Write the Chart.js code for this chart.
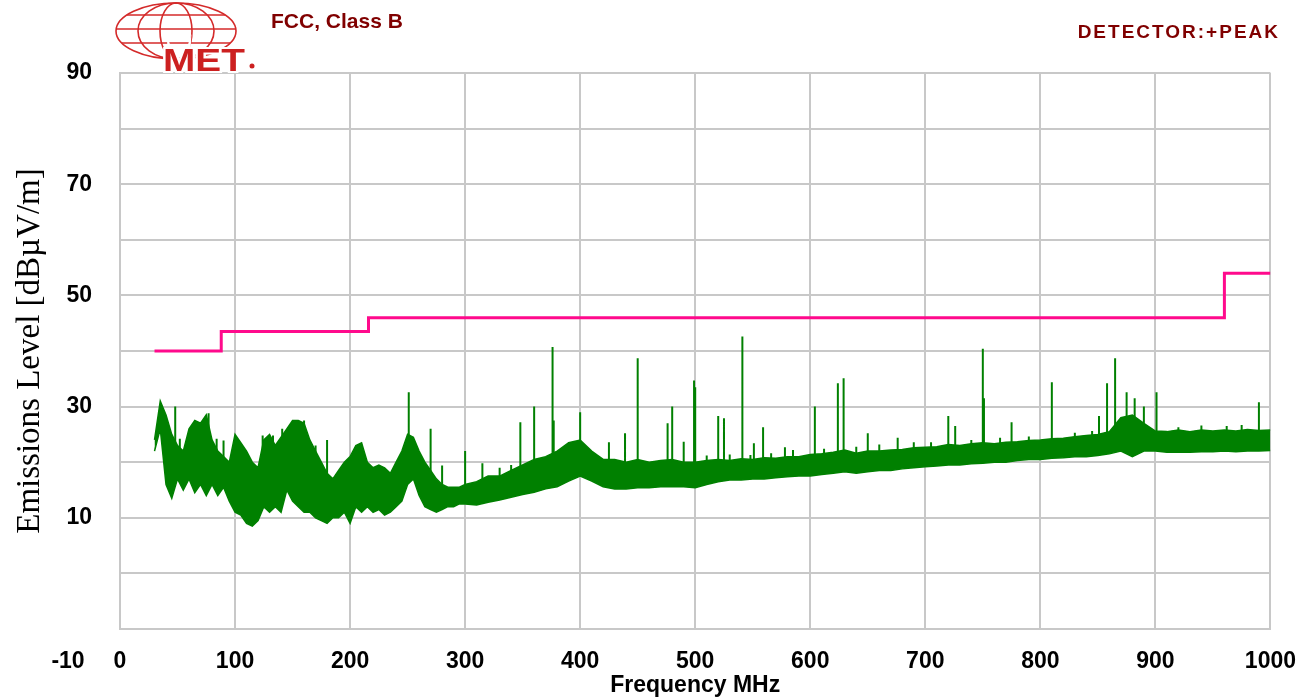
<!DOCTYPE html>
<html>
<head>
<meta charset="utf-8">
<title>FCC, Class B - Emissions</title>
<script src="https://cdn.jsdelivr.net/npm/chart.js@4/dist/chart.umd.min.js"></script>
<style>
  html, body { margin: 0; padding: 0; background: #ffffff; }
  canvas { display: block; }
</style>
</head>
<body>
<canvas id="emissions" width="1315" height="699"></canvas>
<script>
// limit line (FCC Class B, 3 m)
const limitFreq = [30, 88, 88, 216, 216, 960, 960, 1000];
const limitLevel = [40, 40, 43.5, 43.5, 46, 46, 54, 54];

// measured peak trace, read as a band (top / bottom of the noise floor)
const bandFreq = [
  30, 35, 40, 45, 50, 55, 60, 65, 70, 75, 80, 85, 90, 95, 100, 105, 110, 115, 120, 125,
  130, 135, 140, 145, 150, 155, 160, 165, 170, 175, 180, 185, 190, 195, 200, 205, 210, 215, 220, 225,
  230, 235, 240, 245, 250, 255, 260, 265, 270, 275, 280, 285, 290, 295, 300,
  310, 320, 330, 340, 350, 360, 370, 380, 390, 400, 410, 420, 430, 440, 450, 460, 470, 480, 490, 500,
  510, 520, 530, 540, 550, 560, 570, 580, 590, 600, 610, 620, 630, 640, 650, 660, 670, 680, 690, 700,
  710, 720, 730, 740, 750, 760, 770, 780, 790, 800, 810, 820, 830, 840, 850, 860, 870, 880, 890, 900,
  910, 920, 930, 940, 950, 960, 970, 980, 990, 1000
];
const bandHigh = [
  24, 31, 28.5, 25, 23, 22, 26, 27.5, 27, 28.5, 24, 22, 21, 20, 25, 23.5, 22, 20, 19, 24,
  25, 23, 24.5, 26, 27.5, 27.5, 27, 24, 22, 20, 18, 17, 18.5, 20, 21, 23, 23.5, 20, 19, 19.5,
  19, 18, 20, 22, 25, 24.5, 22, 20, 18.5, 17, 16, 15.5, 15.5, 15.5, 16,
  16.5, 17.5, 17.5, 18.5, 19.5, 20.5, 21, 22, 23.5, 24, 22, 20.5, 20.5, 20, 20.5, 20, 20.3, 20.5, 20, 20,
  20.3, 20.5, 20.3, 20.6, 20.5, 20.8, 20.7, 21, 21, 21.4, 21.5, 21.8, 22.2, 21.6, 22, 22, 22.2, 22.3, 22.6, 22.7,
  22.8, 23.2, 23, 23.3, 23.5, 23.3, 23.6, 23.7, 23.9, 24, 24.2, 24.3, 24.6, 24.8, 25, 25.5, 28, 28.5, 27, 25.6,
  25.5, 25.8, 25.5, 25.8, 25.6, 25.8, 25.6, 25.9, 25.7, 25.8
];
const bandLow = [
  22, 26, 16, 13.5, 17, 15, 17, 14.5, 16, 14, 16, 14, 15.5, 13, 11, 10.5, 9, 8.5, 9.5, 12,
  11, 12, 11, 15, 13, 12, 11, 11, 10, 9.5, 9, 10, 10, 11, 9, 12, 11, 12, 11, 11.5,
  10.5, 11, 12, 13, 16, 17, 14, 12, 11.5, 11, 11.5, 12, 12, 12.5, 12.5,
  12.3, 12.8, 13.2, 13.7, 14.2, 14.6, 15.2, 15.6, 16.6, 17.5, 16.6, 15.6, 15.2, 15.2, 15.4, 15.4, 15.6, 15.6, 15.6, 15.4,
  16, 16.5, 16.8, 16.8, 17, 17, 17.2, 17.4, 17.5, 17.5, 17.8, 18, 18.3, 18, 18.3, 18.5, 18.5, 18.8, 19, 19.2,
  19.3, 19.5, 19.5, 19.7, 19.8, 20, 20, 20.3, 20.5, 20.5, 20.7, 20.8, 21, 21, 21.2, 21.5, 22, 21, 22, 22,
  21.8, 21.8, 21.8, 21.9, 21.9, 22, 21.9, 22, 22, 22.1
];

// narrow-band spikes above the noise floor (tall ones and the short needles)
const spikeFreq = [48, 77, 180, 251, 270, 300, 348, 360, 376, 377, 400, 425, 439, 450, 476, 480, 490, 499, 500,
  520, 525, 541, 551, 559, 578, 604, 624, 629, 650, 676, 720, 726, 750, 751, 775, 810,
  851, 858, 865, 875, 882, 890, 901, 990,
  38, 52, 61, 67, 73, 84, 90, 101, 124, 133, 141, 155, 160, 170, 208, 280, 315, 330, 340,
  510, 530, 548, 566, 585, 612, 640, 660, 690, 705, 740, 765, 790, 830, 845, 920, 940, 962, 975];
const spikePeak = [30, 28.8, 24, 32.6, 26, 22, 27.2, 30, 40.7, 27.5, 29, 23.6, 25.2, 38.7, 27, 30, 23.7, 34.7, 33.5,
  28.3, 27.9, 42.6, 23.4, 26.3, 22.7, 30, 34.2, 35.1, 25.2, 24.4, 28.3, 26.5, 40.4, 31.5, 27.2, 34.4,
  28.3, 34.2, 38.7, 32.6, 31.5, 30, 32.6, 30.8,
  28.8, 24.2, 25.4, 27.2, 25.4, 24.2, 23.9, 23.9, 24.8, 24.8, 26, 27.5, 27.5, 23, 21.8, 19.4, 19.8, 19, 19.5,
  21.2, 21.4, 21.3, 21.6, 22.2, 22.4, 22.8, 23.2, 23.6, 23.6, 24, 24.4, 24.6, 25.3, 25.6, 26.3, 26.6, 26.5, 26.7];
const spikeBase = [20, 20, 14, 20, 15, 14, 17, 18, 19, 19, 21, 18, 18, 18, 18, 18, 18, 18, 18,
  19, 19, 19, 19, 19, 19.5, 20, 20, 20, 20.5, 21, 21.5, 21.5, 22, 22, 22, 22.5,
  23.5, 23.5, 24, 25, 25, 24, 24, 24,
  22, 19, 20, 20, 20, 19, 18, 18, 18, 18, 18, 20, 20, 17, 17, 13, 14, 15, 16,
  19, 19, 19, 19, 20, 20, 20, 21, 21, 21, 22, 22, 22, 23, 23, 24, 24, 24, 24];

const tickFont = { family: '"Liberation Sans", Arial, sans-serif', size: 23, weight: 'bold' };
const GREEN = '#008000';
const PINK = '#ff0a8c';
const GRID = '#c8c8c8';

const spikePoints = [];
spikeFreq.forEach((f, i) => {
  spikePoints.push({ x: f, y: spikeBase[i] });
  spikePoints.push({ x: f, y: spikePeak[i] });
  spikePoints.push({ x: f, y: null });
});

// header texts, logo and the odd "-10" label that sits in the frequency row
const decorations = {
  id: 'decorations',
  afterDraw(chart) {
    const ctx = chart.ctx;
    const area = chart.chartArea;
    ctx.save();

    // globe
    const cx = 176, cy = 31, rx = 60, ry = 28;
    ctx.strokeStyle = '#d42a2a';
    ctx.lineWidth = 1.6;
    ctx.beginPath(); ctx.ellipse(cx, cy, rx, ry, 0, 0, Math.PI * 2); ctx.stroke();
    [38, 16].forEach(r => {
      ctx.beginPath(); ctx.ellipse(cx, cy, r, ry, 0, 0, Math.PI * 2); ctx.stroke();
    });
    [-16, -2, 12].forEach(dy => {
      const w = rx * Math.sqrt(1 - (dy / ry) * (dy / ry));
      ctx.beginPath(); ctx.moveTo(cx - w, cy + dy); ctx.lineTo(cx + w, cy + dy); ctx.stroke();
    });

    // MET lettering
    ctx.save();
    ctx.translate(163, 71);
    ctx.scale(1.25, 1);
    ctx.font = 'bold 31px "Liberation Sans", Arial, sans-serif';
    ctx.textBaseline = 'alphabetic';
    ctx.lineWidth = 4;
    ctx.strokeStyle = '#ffffff';
    ctx.strokeText('MET', 0, 0);
    ctx.fillStyle = '#cc2020';
    ctx.fillText('MET', 0, 0);
    ctx.restore();
    ctx.fillStyle = '#cc2020';
    ctx.beginPath(); ctx.arc(252, 66, 2.5, 0, Math.PI * 2); ctx.fill();

    // titles
    ctx.fillStyle = '#800000';
    ctx.textBaseline = 'middle';
    ctx.textAlign = 'left';
    ctx.font = 'bold 21px "Liberation Sans", Arial, sans-serif';
    ctx.fillText('FCC, Class B', 271, 22);
    ctx.textAlign = 'right';
    ctx.font = 'bold 19px "Liberation Sans", Arial, sans-serif';
    ctx.letterSpacing = '2px';
    ctx.fillText('DETECTOR:+PEAK', 1280, 33);
    ctx.letterSpacing = '0px';

    // "-10" at the foot of the level axis
    ctx.fillStyle = '#000000';
    ctx.textAlign = 'center';
    ctx.font = 'bold 23px "Liberation Sans", Arial, sans-serif';
    ctx.fillText('-10', area.left - 52, area.bottom + 33);
    ctx.restore();
  }
};

new Chart(document.getElementById('emissions'), {
  type: 'line',
  data: {
    datasets: [
      {
        label: 'Limit',
        data: limitFreq.map((f, i) => ({ x: f, y: limitLevel[i] })),
        borderColor: PINK,
        borderWidth: 3,
        pointRadius: 0,
        fill: false
      },
      {
        label: 'Spikes',
        data: spikePoints,
        borderColor: GREEN,
        borderWidth: 2,
        pointRadius: 0,
        spanGaps: false,
        fill: false
      },
      {
        label: 'Peak (top)',
        data: bandFreq.map((f, i) => ({ x: f, y: bandHigh[i] })),
        borderColor: GREEN,
        borderWidth: 1.5,
        pointRadius: 0,
        fill: false
      },
      {
        label: 'Peak (bottom)',
        data: bandFreq.map((f, i) => ({ x: f, y: bandLow[i] })),
        borderColor: GREEN,
        borderWidth: 1.5,
        backgroundColor: GREEN,
        pointRadius: 0,
        fill: '-1'
      }
    ]
  },
  options: {
    responsive: false,
    animation: false,
    layout: { padding: { top: 73, right: 43, left: 0, bottom: 0 } },
    plugins: {
      legend: { display: false },
      tooltip: { enabled: false }
    },
    scales: {
      x: {
        type: 'linear',
        min: 0,
        max: 1000,
        ticks: {
          stepSize: 100, font: tickFont, color: '#000', padding: 19, maxRotation: 0, autoSkip: false,
          callback: (v) => String(v)
        },
        grid: { color: GRID, lineWidth: 2, drawTicks: false },
        border: { color: GRID, width: 2 },
        title: {
          display: true,
          text: 'Frequency MHz',
          color: '#000',
          font: { family: '"Liberation Sans", Arial, sans-serif', size: 23, weight: 'bold' },
          padding: { top: 0, bottom: 0 }
        },
        afterFit(scale) { scale.height = 70; }
      },
      y: {
        min: -10,
        max: 90,
        ticks: {
          stepSize: 10,
          font: tickFont,
          color: '#000',
          padding: 28,
          callback: (v) => (v > 0 && (v - 10) % 20 === 0) ? v : ''
        },
        grid: { color: GRID, lineWidth: 2, drawTicks: false },
        border: { color: GRID, width: 2 },
        title: {
          display: true,
          text: 'Emissions Level [dBµV/m]',
          color: '#000',
          font: { family: '"Liberation Serif", "Times New Roman", serif', size: 33 },
          padding: { top: 11, bottom: 0 }
        },
        afterFit(scale) { scale.width = 120; }
      }
    }
  },
  plugins: [decorations]
});
</script>
</body>
</html>
